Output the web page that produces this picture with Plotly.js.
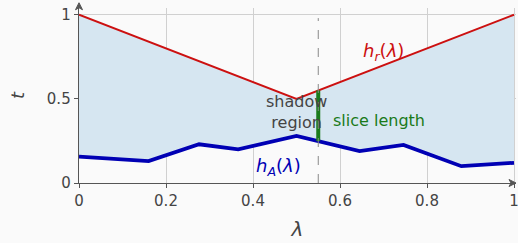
<!DOCTYPE html>
<html><head><meta charset="utf-8">
<script src="https://cdn.plot.ly/plotly-3.0.1.min.js"></script>
<style>body{margin:0;background:#fafafa}#c{width:518px;height:243px}</style>
</head><body><div id="c"></div>
<script>
const lamA = [0, 0.16, 0.276, 0.366, 0.50, 0.645, 0.746, 0.879, 1.0];
const hA   = [0.157, 0.13, 0.23, 0.20, 0.28, 0.19, 0.226, 0.10, 0.12];
const lamR = [0, 0.5, 1.0];
const hR   = [1.0, 0.5, 1.0];
const sliceLam = 0.55;
const xTicks = [0, 0.2, 0.4, 0.6, 0.8, 1];
const xTickText = ['0', '0.2', '0.4', '0.6', '0.8', '1'];
const yTicks = [0, 0.5, 1];
const yTickText = ['0', '0.5', '1'];

function interp(xs, ys, x) {
  for (let i = 0; i < xs.length - 1; i++) {
    if (x >= xs[i] && x <= xs[i+1]) {
      const f = (x - xs[i]) / (xs[i+1] - xs[i]);
      return ys[i] + f * (ys[i+1] - ys[i]);
    }
  }
  return ys[ys.length - 1];
}
const sliceTop = interp(lamR, hR, sliceLam);
const sliceBot = interp(lamA, hA, sliceLam);

const font = 'DejaVu Sans, sans-serif';
const traces = [
  {x: lamA, y: hA, mode: 'lines', line: {width: 0}, hoverinfo: 'skip', showlegend: false},
  {x: lamR, y: hR, mode: 'lines', line: {width: 0}, fill: 'tonexty', fillcolor: '#d6e6f1', hoverinfo: 'skip', showlegend: false},
  {x: lamA, y: hA, mode: 'lines', line: {color: '#0000b4', width: 3.8}, showlegend: false},
  {x: lamR, y: hR, mode: 'lines', line: {color: '#cc1010', width: 2}, showlegend: false},
  {x: [sliceLam, sliceLam], y: [sliceBot, sliceTop], mode: 'lines', line: {color: '#1a7a1a', width: 4}, showlegend: false}
];

const layout = {
  width: 518, height: 243,
  margin: {l: 79, r: 2, t: 8, b: 60},
  paper_bgcolor: '#fafafa', plot_bgcolor: '#fafafa',
  showlegend: false,
  font: {family: font, size: 15, color: '#444'},
  xaxis: {
    range: [0, 1.0046], tickvals: xTicks, ticktext: xTickText,
    showgrid: true, gridcolor: '#d0d0d0', gridwidth: 1,
    zeroline: false, showline: true, linecolor: '#555', linewidth: 1.3,
    ticks: 'outside', ticklen: 4, tickcolor: '#555', ticklabeloverflow: 'allow',
    tickfont: {family: font, size: 15, color: '#444'},
    title: {text: '<i>λ</i>', font: {family: font, size: 20, color: '#444'}, standoff: 12}
  },
  yaxis: {
    range: [0, 1.04], tickvals: yTicks, ticktext: yTickText,
    showgrid: true, gridcolor: '#d0d0d0', gridwidth: 1,
    zeroline: false, showline: true, linecolor: '#555', linewidth: 1.3,
    ticks: 'outside', ticklen: 4, tickcolor: '#555', ticklabeloverflow: 'allow',
    tickfont: {family: font, size: 15, color: '#444'},
    title: {text: '<i>t</i>', font: {family: font, size: 18, color: '#444'}, standoff: 17}
  },
  shapes: [
    {type: 'line', xref: 'x', yref: 'y', x0: sliceLam, x1: sliceLam, y0: 0, y1: 0.98,
     line: {color: '#888', width: 1, dash: 'dash'}, layer: 'above'},
    {type: 'path', xref: 'paper', yref: 'paper', xsizemode: 'pixel', ysizemode: 'pixel',
     xanchor: 1, yanchor: 0, path: 'M -7 -3.5 L 0 0 L -7 3.5 L -5 0 Z',
     fillcolor: '#555', line: {color: '#555', width: 1}, layer: 'above'},
    {type: 'path', xref: 'paper', yref: 'paper', xsizemode: 'pixel', ysizemode: 'pixel',
     xanchor: 0, yanchor: 1.03, path: 'M -3.5 -7 L 0 0 L 3.5 -7 L 0 -5 Z',
     fillcolor: '#555', line: {color: '#555', width: 1}, layer: 'above'}
  ],
  annotations: [
    {x: 0.50, y: 0.42, xref: 'x', yref: 'y', text: 'shadow<br>region', showarrow: false,
     font: {family: font, size: 16, color: '#444'}, align: 'center'},
    {x: 0.69, y: 0.37, xref: 'x', yref: 'y', text: 'slice length', showarrow: false,
     font: {family: font, size: 16, color: '#1a7a1a'}},
    {x: 0.70, y: 0.78, xref: 'x', yref: 'y', text: '<i>h</i><sub><i>r</i></sub>(<i>λ</i>)', showarrow: false,
     font: {family: font, size: 18, color: '#cc1010'}},
    {x: 0.458, y: 0.095, xref: 'x', yref: 'y', text: '<i>h</i><sub><i>A</i></sub>(<i>λ</i>)', showarrow: false,
     font: {family: font, size: 18, color: '#0000b4'}}
  ]
};
Plotly.newPlot('c', traces, layout, {staticPlot: true, displayModeBar: false});
</script></body></html>
